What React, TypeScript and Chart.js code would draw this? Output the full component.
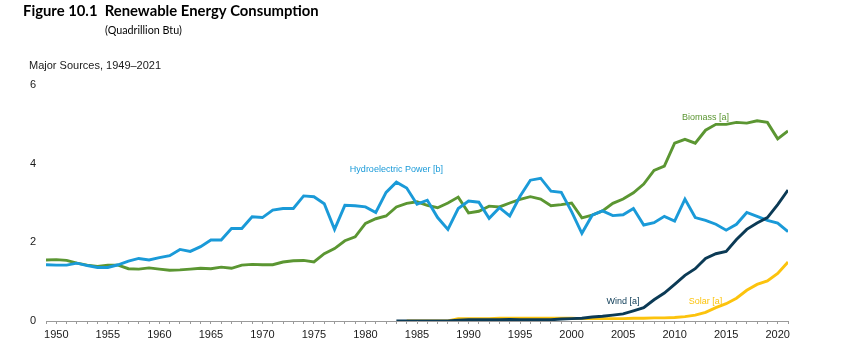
import React, { useEffect, useRef } from "react";
import { Chart, registerables } from "chart.js";

Chart.register(...registerables);

const titleText = "Figure 10.1  Renewable Energy Consumption";
const unitText = "(Quadrillion Btu)";
const subTitleText = "Major Sources, 1949\u20132021";

const firstYear = 1949;
const lastYear = 2021;

const hydroValues = [
  1.43, 1.42, 1.42, 1.47, 1.41, 1.36, 1.36, 1.43, 1.52, 1.59,
  1.55, 1.61, 1.66, 1.82, 1.77, 1.89, 2.06, 2.06, 2.35, 2.35,
  2.65, 2.63, 2.82, 2.86, 2.86, 3.18, 3.16, 2.98, 2.33, 2.94,
  2.93, 2.90, 2.76, 3.27, 3.53, 3.38, 2.97, 3.07, 2.63, 2.33,
  2.86, 3.05, 3.02, 2.61, 2.88, 2.67, 3.17, 3.58, 3.63, 3.30,
  3.27, 2.78, 2.23, 2.69, 2.80, 2.68, 2.70, 2.86, 2.44, 2.50,
  2.66, 2.54, 3.10, 2.63, 2.56, 2.46, 2.31, 2.46, 2.76, 2.66,
  2.56, 2.49, 2.27,
];

const biomassValues = [
  1.55, 1.56, 1.54, 1.47, 1.42, 1.39, 1.42, 1.42, 1.33, 1.32,
  1.35, 1.32, 1.29, 1.30, 1.32, 1.34, 1.33, 1.37, 1.34, 1.42,
  1.44, 1.43, 1.43, 1.50, 1.53, 1.54, 1.50, 1.71, 1.84, 2.04,
  2.14, 2.48, 2.60, 2.67, 2.90, 2.99, 3.03, 2.94, 2.88, 3.00,
  3.15, 2.75, 2.79, 2.92, 2.90, 3.00, 3.09, 3.16, 3.10, 2.93,
  2.96, 3.00, 2.62, 2.69, 2.80, 2.99, 3.10, 3.26, 3.48, 3.83,
  3.94, 4.52, 4.62, 4.52, 4.85, 5.00, 5.00, 5.05, 5.03, 5.09,
  5.05, 4.63, 4.83,
];

const windStartYear = 1983;
const windValues = [
  0.00, 0.00, 0.00, 0.00, 0.00, 0.00, 0.02, 0.03, 0.03, 0.03,
  0.03, 0.04, 0.03, 0.03, 0.03, 0.03, 0.05, 0.06, 0.07, 0.10,
  0.12, 0.15, 0.18, 0.26, 0.34, 0.54, 0.71, 0.93, 1.16, 1.33,
  1.59, 1.71, 1.77, 2.07, 2.33, 2.49, 2.63, 2.96, 3.33,
];

const solarStartYear = 1984;
const solarValues = [
  0.00, 0.00, 0.00, 0.00, 0.00, 0.06, 0.06, 0.06, 0.06, 0.07,
  0.07, 0.07, 0.07, 0.07, 0.07, 0.07, 0.07, 0.06, 0.06, 0.06,
  0.06, 0.06, 0.07, 0.07, 0.08, 0.08, 0.09, 0.11, 0.15, 0.22,
  0.34, 0.44, 0.58, 0.78, 0.93, 1.02, 1.21, 1.50,
];

const seriesNames = ["Hydroelectric Power [b]", "Biomass [a]", "Wind [a]", "Solar [a]"];
const seriesColors = ["#1a9ad8", "#5b9632", "#0b3a55", "#fcc30d"];
// label anchor positions in data units (year, quadrillion Btu)
const labelYears = [1983, 2013, 2005, 2013];
const labelValues = [3.86, 5.18, 0.5, 0.5];

const yTicks = [0, 2, 4, 6];

function toPoints(start: number, values: number[]) {
  return values.map((v, i) => ({ x: start + i, y: v }));
}

const FONT = "'Liberation Sans', Arial, sans-serif";

const textPlugin = {
  id: "texts",
  afterDraw(chart: any) {
    const ctx = chart.ctx;
    const xs = chart.scales.x;
    const ys = chart.scales.y;
    ctx.save();
    let size = 15;
    ctx.font = `bold ${size}px Lato, 'Liberation Sans', sans-serif`;
    const w = ctx.measureText(titleText).width;
    size = (size * 296) / w;
    ctx.font = `bold ${size}px Lato, 'Liberation Sans', sans-serif`;
    ctx.fillStyle = "#000";
    ctx.textBaseline = "middle";
    ctx.textAlign = "left";
    ctx.fillText(titleText, 23, 11);

    let us = 11;
    ctx.font = `${us}px Lato, 'Liberation Sans', sans-serif`;
    const uw = ctx.measureText(unitText).width;
    us = (us * 77) / uw;
    ctx.font = `${us}px Lato, 'Liberation Sans', sans-serif`;
    ctx.fillText(unitText, 105, 31);

    ctx.font = `11px ${FONT}`;
    ctx.fillStyle = "#1a1a1a";
    ctx.fillText(subTitleText, 29, 66);

    ctx.font = `9px ${FONT}`;
    ctx.textAlign = "center";
    seriesNames.forEach((name, i) => {
      ctx.fillStyle = seriesColors[i];
      ctx.fillText(name, xs.getPixelForValue(labelYears[i]), ys.getPixelForValue(labelValues[i]));
    });
    ctx.restore();
  },
};

export default function App() {
  const ref = useRef<HTMLCanvasElement | null>(null);
  useEffect(() => {
    if (!ref.current) return;
    const datasets = [
      { label: seriesNames[2], data: toPoints(windStartYear, windValues), color: seriesColors[2] },
      { label: seriesNames[3], data: toPoints(solarStartYear, solarValues), color: seriesColors[3] },
      { label: seriesNames[0], data: toPoints(firstYear, hydroValues), color: seriesColors[0] },
      { label: seriesNames[1], data: toPoints(firstYear, biomassValues), color: seriesColors[1] },
    ].map((d) => ({
      label: d.label,
      data: d.data,
      borderColor: d.color,
      backgroundColor: d.color,
      borderWidth: 2.9,
      pointRadius: 0,
      tension: 0,
      fill: false,
    }));
    const chart = new Chart(ref.current, {
      type: "line",
      data: { datasets },
      options: {
        animation: false,
        responsive: false,
        devicePixelRatio: 1,
        layout: { padding: { top: 85, right: 61, left: 0, bottom: 0 } },
        plugins: { legend: { display: false }, tooltip: { enabled: false }, title: { display: false } },
        scales: {
          x: {
            type: "linear",
            min: firstYear,
            max: lastYear,
            afterFit: (s: any) => {
              s.height = 39;
            },
            afterBuildTicks: (s: any) => {
              const t = [];
              for (let y = firstYear; y <= lastYear; y++) t.push({ value: y });
              s.ticks = t;
            },
            ticks: {
              autoSkip: false,
              maxRotation: 0,
              minRotation: 0,
              padding: 4,
              color: "#1a1a1a",
              font: { family: FONT, size: 11 },
              callback: (v: any) => (Number(v) % 5 === 0 ? String(v) : ""),
            },
            grid: {
              display: true,
              drawOnChartArea: false,
              drawTicks: true,
              tickLength: 3,
              color: "#9a9a9a",
              lineWidth: 1,
            },
            border: { display: true, color: "#9a9a9a", width: 1 },
          },
          y: {
            min: 0,
            max: 6,
            afterFit: (s: any) => {
              s.width = 46;
            },
            afterBuildTicks: (s: any) => {
              s.ticks = yTicks.map((v) => ({ value: v }));
            },
            ticks: {
              padding: 10,
              color: "#1a1a1a",
              font: { family: FONT, size: 11 },
            },
            grid: { display: false, drawTicks: false },
            border: { display: false },
          },
        },
      },
      plugins: [textPlugin],
    });
    return () => chart.destroy();
  }, []);
  return (
    <div style={{ position: "absolute", left: 0, top: 0, width: 849, height: 360, background: "#fff" }}>
      <canvas ref={ref} width={849} height={360} style={{ width: 849, height: 360, display: "block" }} />
    </div>
  );
}
